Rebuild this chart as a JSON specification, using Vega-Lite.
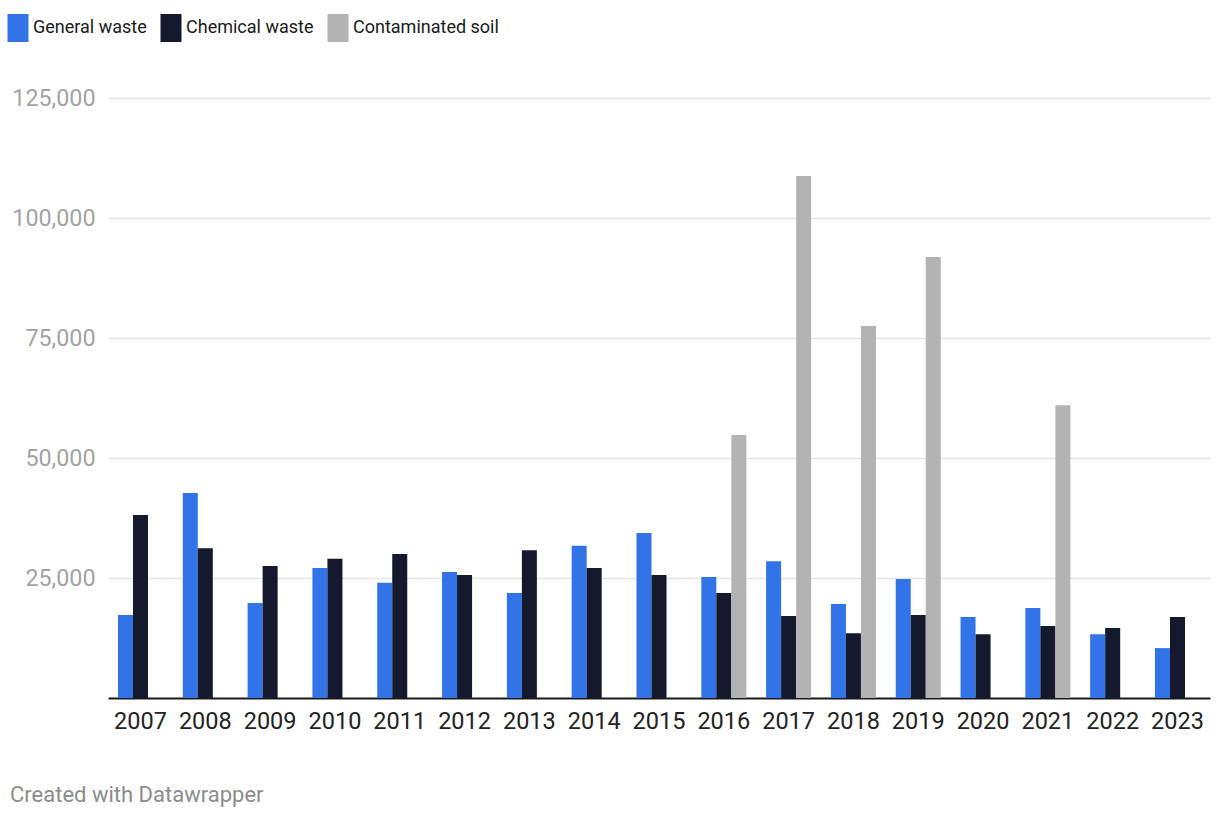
{
  "$schema": "https://vega.github.io/schema/vega-lite/v6.json",
  "width": 1102,
  "height": 600,
  "autosize": {"type": "none"},
  "padding": {"left": 108, "top": 98, "right": 10, "bottom": 122},
  "background": "white",
  "config": {
    "font": "Roboto",
    "view": {"stroke": null}
  },
  "title": {
    "text": "Created with Datawrapper",
    "orient": "bottom",
    "anchor": "start",
    "frame": "group",
    "dx": -98,
    "offset": 52,
    "fontSize": 22,
    "fontWeight": "normal",
    "color": "#8c8c8c",
    "font": "Roboto"
  },
  "data": {
    "values": [
      {"year": "2007", "type": "General waste", "value": 17300},
      {"year": "2007", "type": "Chemical waste", "value": 38100},
      {"year": "2008", "type": "General waste", "value": 42700},
      {"year": "2008", "type": "Chemical waste", "value": 31200},
      {"year": "2009", "type": "General waste", "value": 19800},
      {"year": "2009", "type": "Chemical waste", "value": 27500},
      {"year": "2010", "type": "General waste", "value": 27100},
      {"year": "2010", "type": "Chemical waste", "value": 29000},
      {"year": "2011", "type": "General waste", "value": 24000},
      {"year": "2011", "type": "Chemical waste", "value": 30000},
      {"year": "2012", "type": "General waste", "value": 26250},
      {"year": "2012", "type": "Chemical waste", "value": 25600},
      {"year": "2013", "type": "General waste", "value": 21900},
      {"year": "2013", "type": "Chemical waste", "value": 30800},
      {"year": "2014", "type": "General waste", "value": 31700},
      {"year": "2014", "type": "Chemical waste", "value": 27100},
      {"year": "2015", "type": "General waste", "value": 34400},
      {"year": "2015", "type": "Chemical waste", "value": 25600},
      {"year": "2016", "type": "General waste", "value": 25200},
      {"year": "2016", "type": "Chemical waste", "value": 21900},
      {"year": "2016", "type": "Contaminated soil", "value": 54800},
      {"year": "2017", "type": "General waste", "value": 28500},
      {"year": "2017", "type": "Chemical waste", "value": 17100},
      {"year": "2017", "type": "Contaminated soil", "value": 108750},
      {"year": "2018", "type": "General waste", "value": 19600},
      {"year": "2018", "type": "Chemical waste", "value": 13500},
      {"year": "2018", "type": "Contaminated soil", "value": 77500},
      {"year": "2019", "type": "General waste", "value": 24800},
      {"year": "2019", "type": "Chemical waste", "value": 17300},
      {"year": "2019", "type": "Contaminated soil", "value": 91900},
      {"year": "2020", "type": "General waste", "value": 16900},
      {"year": "2020", "type": "Chemical waste", "value": 13300},
      {"year": "2021", "type": "General waste", "value": 18750},
      {"year": "2021", "type": "Chemical waste", "value": 15000},
      {"year": "2021", "type": "Contaminated soil", "value": 61000},
      {"year": "2022", "type": "General waste", "value": 13300},
      {"year": "2022", "type": "Chemical waste", "value": 14600},
      {"year": "2023", "type": "General waste", "value": 10400},
      {"year": "2023", "type": "Chemical waste", "value": 16900}
    ]
  },
  "mark": {"type": "bar"},
  "encoding": {
    "x": {
      "field": "year",
      "type": "nominal",
      "title": null,
      "scale": {"paddingInner": 0.305, "paddingOuter": 0.154},
      "axis": {
        "labelAngle": 0,
        "labelFontSize": 23.5,
        "labelColor": "#222222",
        "labelPadding": 11,
        "ticks": false,
        "domain": true,
        "domainColor": "#1a1a1a",
        "domainWidth": 2,
        "grid": false
      }
    },
    "xOffset": {
      "field": "type",
      "type": "nominal",
      "scale": {"domain": ["General waste", "Chemical waste", "Contaminated soil"], "paddingInner": 0, "paddingOuter": 0}
    },
    "y": {
      "field": "value",
      "type": "quantitative",
      "title": null,
      "scale": {"domain": [0, 125000], "nice": false},
      "axis": {
        "values": [25000, 50000, 75000, 100000, 125000],
        "format": ",.0f",
        "labelFontSize": 23.3,
        "labelColor": "#a3a3a3",
        "labelPadding": 13,
        "ticks": false,
        "domain": false,
        "grid": true,
        "gridColor": "#e5e5e5",
        "gridWidth": 1.5
      }
    },
    "color": {
      "field": "type",
      "type": "nominal",
      "title": null,
      "scale": {
        "domain": ["General waste", "Chemical waste", "Contaminated soil"],
        "range": ["#3373e8", "#15192d", "#b3b3b3"]
      },
      "legend": {
        "orient": "none",
        "legendX": -104,
        "legendY": -84,
        "direction": "horizontal",
        "symbolType": "M-0.75,-1L0.75,-1L0.75,1L-0.75,1Z",
        "symbolSize": 784,
        "symbolStrokeWidth": 0,
        "symbolOpacity": 1,
        "labelFontSize": 18,
        "labelLimit": 400,
        "labelColor": "#1a1a1a",
        "labelOffset": 1,
        "columnPadding": 10,
        "symbolOffset": 0
      }
    }
  }
}
